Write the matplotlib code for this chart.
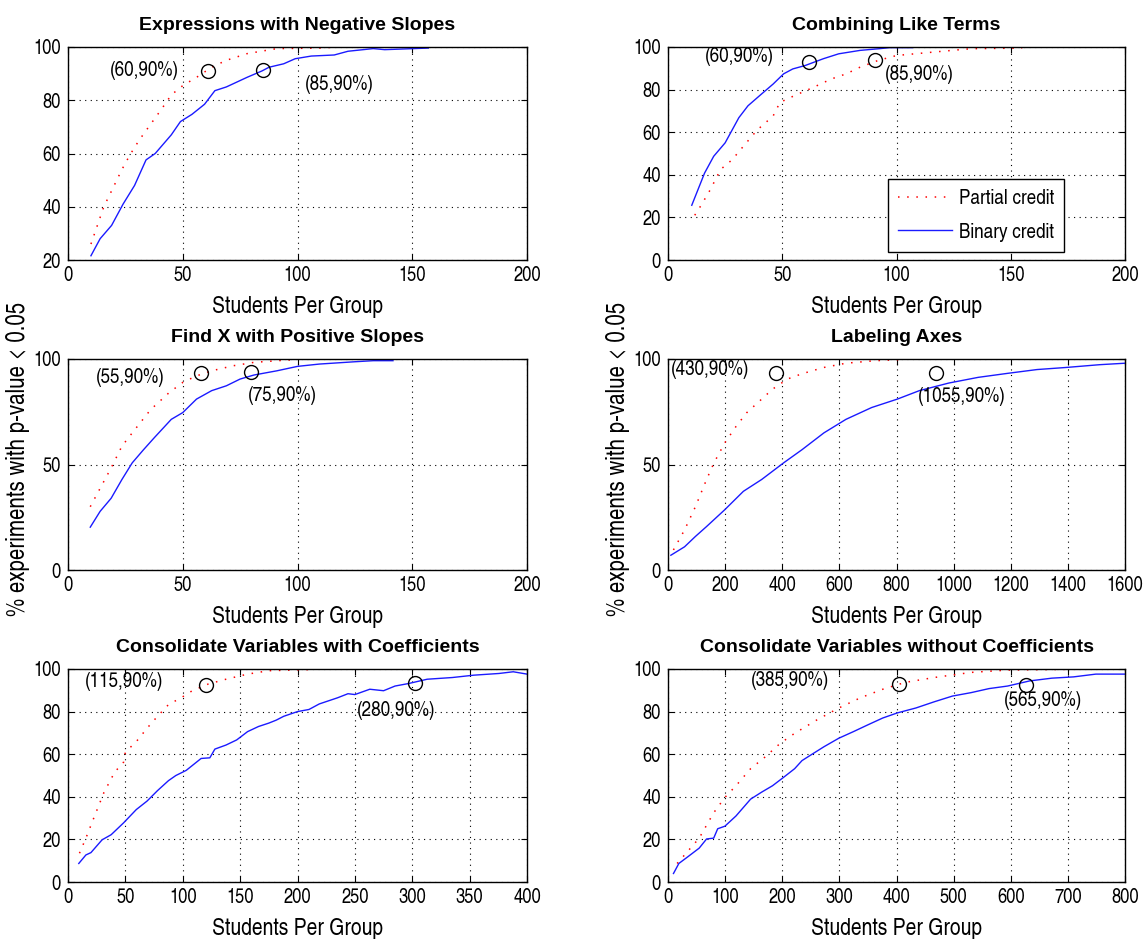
import matplotlib
matplotlib.use("Agg")
import matplotlib.pyplot as plt

# ---------------- data ----------------
titles = ["Expressions with Negative Slopes", "Combining Like Terms",
          "Find X with Positive Slopes", "Labeling Axes",
          "Consolidate Variables with Coefficients",
          "Consolidate Variables without Coefficients"]

# Panel 1: Expressions with Negative Slopes
neg_bin_x = [10, 14, 19, 24, 29, 34, 38, 45, 49, 54, 59.5, 64, 69, 78, 84.5, 87.6, 94, 99, 106, 116, 122, 133, 138, 157]
neg_bin_y = [21.6, 28, 33, 41, 48, 57.6, 60, 67, 72, 74.7, 78.5, 83.6, 85, 88.6, 91, 92.4, 93.7, 95.6, 96.6, 97, 98.4, 99.4, 99, 99.6]
neg_par_x = [10, 15.6, 19, 23.5, 27, 31, 36, 40.7, 45, 50, 56, 62.6, 69, 78, 91, 110, 117]
neg_par_y = [26, 40, 46, 54, 59.5, 65, 71, 76.6, 82, 85.5, 88.6, 92.4, 95, 97.5, 99.4, 99.6, 100]
neg_mark_x = [61, 85]
neg_mark_y = [91, 91.5]
neg_labels = ["(60,90%)", "(85,90%)"]

# Panel 2: Combining Like Terms
comb_bin_x = [10.4, 16, 20, 25, 31, 35, 41, 46, 50.6, 54.6, 60, 68, 74.7, 84, 92.4, 97, 107]
comb_bin_y = [25.7, 40.8, 48.7, 55, 66.8, 72.4, 78, 82.6, 87.4, 89.7, 91.3, 94.5, 96.8, 98.4, 99.2, 99.7, 99.7]
comb_par_x = [11.7, 14.5, 18.5, 23, 28, 33, 39, 46, 49, 55, 63.5, 71.5, 78, 84, 92, 100, 116, 132.5, 155]
comb_par_y = [21, 25.7, 33, 42.5, 47, 53.4, 61, 67.6, 74, 77, 81, 85, 87.4, 90.5, 93.7, 96, 97.6, 99.2, 99.5]
comb_mark_x = [61.8, 90.8]
comb_mark_y = [92.9, 93.7]
comb_labels = ["(60,90%)", "(85,90%)"]

# Panel 3: Find X with Positive Slopes
pos_bin_x = [9.7, 14, 18.8, 23.5, 28, 32.9, 37.6, 45, 50, 56, 62.6, 69, 75, 81, 91, 100, 109.5, 125, 133, 141.6]
pos_bin_y = [20.3, 27.8, 34, 42.9, 50.8, 57, 62.7, 71.4, 74.6, 81, 85, 87.3, 90.5, 92.4, 94.4, 96.5, 97.6, 98.7, 99.2, 99.2]
pos_par_x = [9.7, 13.3, 18.8, 23.5, 28, 36, 44, 50, 56, 62.6, 72, 81, 94, 100]
pos_par_y = [30, 37.3, 48.4, 58.7, 65, 76, 84, 88.9, 92, 94.4, 96.8, 98.4, 99.4, 99.7]
pos_mark_x = [57.9, 79.8]
pos_mark_y = [93.3, 93.7]
pos_labels = ["(55,90%)", "(75,90%)"]

# Panel 4: Labeling Axes
lab_bin_x = [10, 58, 96, 135, 199, 264, 328, 405, 469, 546, 623, 713, 803, 880, 983, 1086, 1189, 1292, 1395, 1511, 1600]
lab_bin_y = [7, 11, 15.9, 20.6, 28.6, 37.3, 42.9, 50.8, 57, 65, 71.4, 77, 81, 85, 88.6, 91.3, 93.2, 95, 96, 97.3, 98]
lab_par_x = [19, 58, 96, 135, 161, 199, 238, 276, 328, 366, 418, 469, 546, 623, 726, 816]
lab_par_y = [9.5, 19, 30, 42.9, 50.8, 60.3, 68, 74.6, 81, 85.7, 90.5, 93, 96, 98, 99.2, 99.7]
lab_mark_x = [379, 938]
lab_mark_y = [93.3, 93.5]
lab_labels = ["(430,90%)", "(1055,90%)"]

# Panel 5: Consolidate Variables with Coefficients
cw_bin_x = [9.4, 15.6, 20, 29.7, 37.6, 48.5, 59.5, 68.9, 78, 87.6, 94, 103, 116, 123.6, 128, 137.7, 147, 156.5, 166, 175,
            181.5, 188, 200, 210, 219, 235, 244, 250, 263, 275, 285, 297, 313, 335, 353.6, 375.6, 388, 400]
cw_bin_y = [8.7, 12.7, 13.8, 19.8, 22.2, 27.8, 34, 38, 42.9, 47.6, 50, 52.4, 58, 58.3, 62.4, 64.3, 66.7, 70.6, 73, 74.6,
            76, 77.8, 80, 81, 83.6, 86.5, 88.4, 88, 90.5, 89.8, 92, 93.2, 95.2, 96, 97.1, 97.9, 98.7, 97.6]
cw_par_x = [10, 15.6, 22, 31.3, 40.7, 48.5, 50, 59.5, 68.9, 78, 87.6, 98.6, 108, 122, 137.7, 156.5, 175, 210]
cw_par_y = [13.5, 20.6, 29.4, 42, 51.6, 56.3, 61, 65.9, 72.2, 77.8, 83.3, 86.5, 89.7, 92.9, 95.2, 97.6, 99.2, 99.7]
cw_mark_x = [120.5, 302]
cw_mark_y = [92.5, 93.2]
cw_labels = ["(115,90%)", "(280,90%)"]

# Panel 6: Consolidate Variables without Coefficients
cwo_bin_x = [9.6, 19, 35, 54.6, 67.5, 80, 87, 99.6, 119, 144.6, 164, 183, 202.6, 221.7, 234.6, 254, 273, 299, 324.6, 350,
             376, 401.6, 434, 466, 498, 530.5, 562, 594.5, 633, 672, 710, 749, 800]
cwo_bin_y = [4, 8.7, 11.9, 15.9, 20.2, 20.6, 25, 26.2, 31, 38.9, 42.2, 45.2, 49.2, 53.2, 57, 60.3, 63.5, 67.5, 70.6, 73.8,
             77, 79.4, 81.7, 84.6, 87.3, 88.9, 90.8, 92, 94.4, 95.7, 96.3, 97.6, 97.6]
cwo_par_x = [16, 29, 54.6, 80, 99.6, 119, 144.6, 170, 196, 221.7, 260, 299, 337, 376, 415, 466, 530.5, 594.5, 749]
cwo_par_y = [8.7, 12.7, 20.6, 32.5, 39.7, 45.2, 53.2, 58.7, 65, 69.8, 76, 81.7, 86.5, 90.5, 93.7, 96, 98.4, 99.5, 100]
cwo_mark_x = [405, 626.6]
cwo_mark_y = [92.9, 92.5]
cwo_labels = ["(385,90%)", "(565,90%)"]

xlabel = "Students Per Group"
ylabel = "% experiments with p-value < 0.05"
legend_labels = ["Partial credit", "Binary credit"]

# ---------------- layout ----------------
W, H = 1143, 939
NARROW = ["TeX Gyre Heros Cn", "Liberation Sans", "DejaVu Sans"]
BOLD = ["Liberation Sans", "DejaVu Sans"]
plt.rcParams["font.family"] = NARROW

fig = plt.figure(figsize=(W / 100, H / 100), dpi=100)


def px_axes(x0, y0, x1, y1):
    return fig.add_axes([x0 / W, 1 - y1 / H, (x1 - x0) / W, (y1 - y0) / H])


boxes = [(68, 47, 527, 260), (668, 47, 1125, 260),
         (68, 359, 527, 570), (668, 359, 1125, 570),
         (68, 669, 527, 882), (668, 669, 1125, 882)]

panels = [
    (neg_bin_x, neg_bin_y, neg_par_x, neg_par_y, neg_mark_x, neg_mark_y, neg_labels,
     (0, 200), range(0, 201, 50), (20, 100), range(20, 101, 20),
     [(18.3, 91), (103, 86)]),
    (comb_bin_x, comb_bin_y, comb_par_x, comb_par_y, comb_mark_x, comb_mark_y, comb_labels,
     (0, 200), range(0, 201, 50), (0, 100), range(0, 101, 20),
     [(16, 95.7), (94.8, 86.9)]),
    (pos_bin_x, pos_bin_y, pos_par_x, pos_par_y, pos_mark_x, pos_mark_y, pos_labels,
     (0, 200), range(0, 201, 50), (0, 100), range(0, 101, 50),
     [(12.2, 91.3), (78.2, 82.9)]),
    (lab_bin_x, lab_bin_y, lab_par_x, lab_par_y, lab_mark_x, lab_mark_y, lab_labels,
     (0, 1600), range(0, 1601, 200), (0, 100), range(0, 101, 50),
     [(10, 95.2), (875, 82.1)]),
    (cw_bin_x, cw_bin_y, cw_par_x, cw_par_y, cw_mark_x, cw_mark_y, cw_labels,
     (0, 400), range(0, 401, 50), (0, 100), range(0, 101, 20),
     [(15, 94.1), (252, 80.5)]),
    (cwo_bin_x, cwo_bin_y, cwo_par_x, cwo_par_y, cwo_mark_x, cwo_mark_y, cwo_labels,
     (0, 800), range(0, 801, 100), (0, 100), range(0, 101, 20),
     [(144.6, 94.8), (588, 85.2)]),
]

DOT = (0, (1, 5))
for i, (box, p, title) in enumerate(zip(boxes, panels, titles)):
    bx, by, px_, py, mx, my, labs, xl, xt, yl, yt, tpos = p
    ax = px_axes(*box)
    ax.plot(px_, py, color="#ff0000", linestyle=DOT, linewidth=1.1, label=legend_labels[0])
    ax.plot(bx, by, color="#1a1aff", linewidth=1.0, label=legend_labels[1])
    ax.plot(mx, my, linestyle="none", marker="o", markersize=10, markerfacecolor="none",
            markeredgecolor="black", markeredgewidth=1.0)
    for (tx, ty), s in zip(tpos, labs):
        ax.text(tx, ty, s, ha="left", va="center", fontsize=15)
    ax.set_xlim(*xl)
    ax.set_ylim(*yl)
    ax.set_xticks(list(xt))
    ax.set_yticks(list(yt))
    ax.grid(True, color="black", linestyle=(0, (1, 4)), linewidth=0.8)
    ax.tick_params(direction="in", top=True, right=True, length=4, labelsize=14.5)
    ax.tick_params(axis="x", pad=4)
    ax.tick_params(axis="y", pad=5)
    for sp in ax.spines.values():
        sp.set_color("black")
        sp.set_linewidth(1.0)
    ax.set_xlabel(xlabel, fontsize=17, labelpad=8)
    ax.set_title(title, fontsize=14, fontweight="bold", family=BOLD, pad=12.5)
    if i == 1:
        leg = ax.legend(loc="lower right", bbox_to_anchor=(0.867, 0.037), borderaxespad=0,
                        fontsize=15, fancybox=False, framealpha=1, edgecolor="black",
                        handlelength=2.6, labelspacing=0.7, borderpad=0.5, handletextpad=0.3)
        leg.get_frame().set_linewidth(1.0)

fig.text(18 / W, 1 - 459 / H, ylabel, rotation=90, ha="center", va="center", fontsize=18)
fig.text(618 / W, 1 - 459 / H, ylabel, rotation=90, ha="center", va="center", fontsize=18)

fig.savefig("out.png", dpi=100, facecolor="white")
